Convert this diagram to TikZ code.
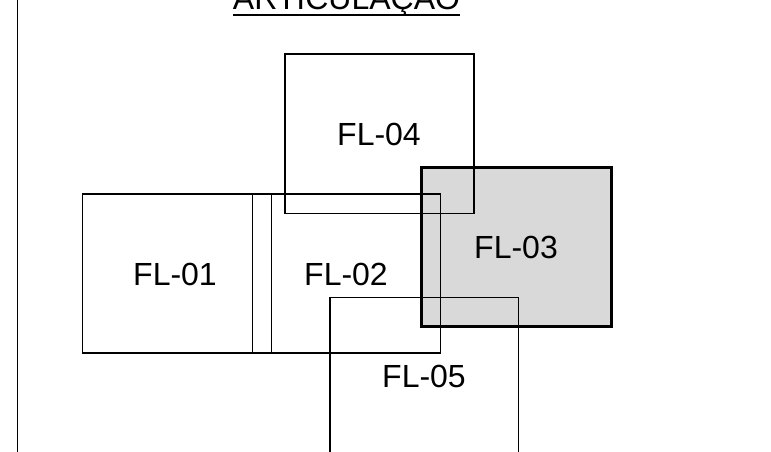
\documentclass[tikz,border=0pt]{standalone}
\usepackage{fontspec}
\setmainfont{Liberation Sans}
\definecolor{sheetgray}{HTML}{D9D9D9}
\begin{document}
\begin{tikzpicture}[x=1pt,y=-1pt,
  thin line/.style={line width=1.3pt, draw=black},
  thick line/.style={line width=3pt, draw=black},
  lbl/.style={anchor=base, inner sep=0pt, font=\fontsize{32}{38}\selectfont}]
\useasboundingbox (0,0) rectangle (771,452);
\clip (0,0) rectangle (771,452);
% left frame line
\draw[line width=1.5pt] (17.3,-5) -- (17.3,460);
% title
\node[lbl] (title) at (346.5,10) {ARTICULAÇÃO};
\draw[line width=1.4pt] (233,15.2) -- (460,15.2);
% FL-03 (highlighted)
\filldraw[fill=sheetgray, thick line] (421.7,167.3) rectangle (611,326.7);
% FL-04
\draw[thin line] (285,54) rectangle (474,213.3);
% FL-01 / FL-02 block
\draw[thin line] (82.3,194) rectangle (440.7,353);
\draw[thin line] (252.3,194) -- (252.3,353);
\draw[thin line] (271.7,194) -- (271.7,353);
% FL-05
\draw[thin line] (330,470) -- (330,297.3) -- (518.7,297.3) -- (518.7,470);
% labels
\node[lbl] (fl04) at (379,145.7) {FL-04};
\node[lbl] (fl01) at (175,285.7) {FL-01};
\node[lbl] (fl02) at (346,285.7) {FL-02};
\node[lbl] (fl03) at (516,258.3) {FL-03};
\node[lbl] (fl05) at (424,387.7) {FL-05};
\end{tikzpicture}
\end{document}
